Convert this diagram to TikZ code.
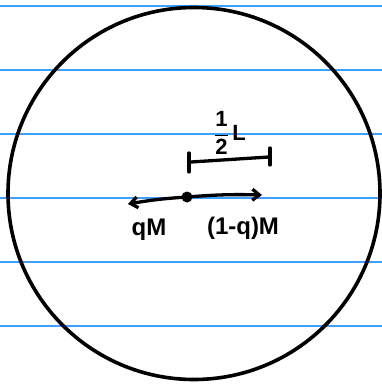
\documentclass[tikz,border=0pt]{standalone}
\usepackage{fontspec}
\setmainfont{Liberation Sans}
\usetikzlibrary{arrows.meta}
\begin{document}
\begin{tikzpicture}[x=1pt,y=-1pt,
  ruled/.style={draw={rgb,255:red,60;green,160;blue,255},line width=1.3pt},
  ink/.style={draw=black,line width=3.3pt,line cap=round,line join=round},
  lbl/.style={inner sep=0pt,font=\fontsize{24}{24}\selectfont\bfseries}]
\useasboundingbox (0,0) rectangle (382,385);
\foreach \yy in {6,70,134,198,262,326}
  \draw[ruled] (0,\yy) -- (382,\yy);
\node[circle,draw,line width=3.6pt,minimum size=372pt,inner sep=0pt] (ball) at (194,193.5) {};
\node[circle,fill=black,inner sep=0pt,minimum size=11pt] (cm) at (187,197) {};
\coordinate (lt) at (128,204);
\coordinate (rt) at (262,195);
\draw[ink,-{Straight Barb[length=7pt,width=11pt]}] (cm.center) to[bend right=3] (lt);
\draw[ink,-{Straight Barb[length=7pt,width=11pt]}] (cm.center) to[bend left=3] (rt);
\coordinate (bl) at (191,162);
\coordinate (br) at (269,157);
\coordinate (blt) at (189,153);
\coordinate (blb) at (189,172);
\coordinate (brt) at (270,148);
\coordinate (brb) at (270,165);
\draw[ink] (blt) -- (blb);
\draw[ink] (brt) -- (brb);
\draw[ink] (bl) -- (br);
\node[lbl,font=\fontsize{22}{22}\selectfont\bfseries] (half) at (230,133) {$\displaystyle\mathbf{\frac{1}{2}}$\,L};
\node[lbl] (qm) at (149,230) {qM};
\node[lbl] (rm) at (243,228) {(1-q)M};
\end{tikzpicture}
\end{document}
